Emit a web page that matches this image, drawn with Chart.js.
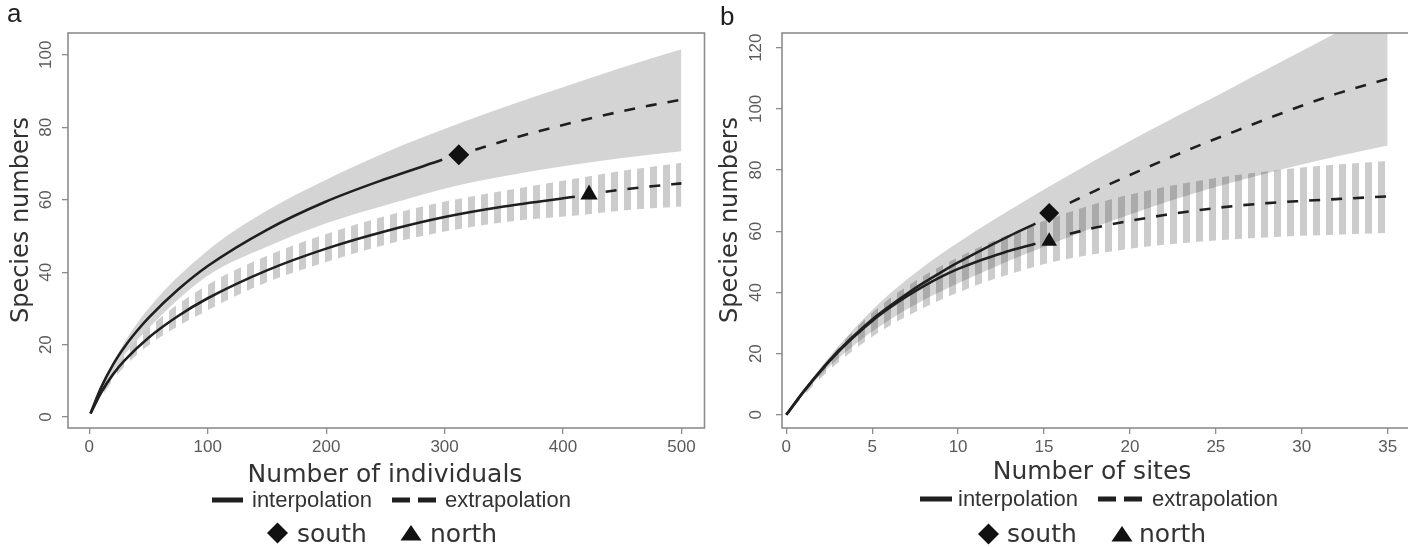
<!DOCTYPE html>
<html>
<head>
<meta charset="utf-8">
<title>Species rarefaction curves</title>
<script src="https://cdn.jsdelivr.net/npm/chart.js@4.4.0/dist/chart.umd.min.js"></script>
<style>
  html, body { margin: 0; padding: 0; background: #fff; overflow: hidden; }
  #wrap { position: relative; width: 1408px; height: 547px; overflow: hidden; }
  .panel { position: absolute; top: 0; height: 547px; }
  #panel-a { left: 0; width: 715px; }
  #panel-b { left: 715px; width: 705px; }
</style>
</head>
<body>
<div id="wrap">
  <div class="panel" id="panel-a"><canvas id="chart-a" width="715" height="547"></canvas></div>
  <div class="panel" id="panel-b"><canvas id="chart-b" width="705" height="547"></canvas></div>
</div>
<script>
  // ---- panel a : number of individuals ----
  const aXTicks = [0, 100, 200, 300, 400, 500];
  const aYTicks = [0, 20, 40, 60, 80, 100];

  const aSouthInterpX = [1, 10, 20, 30, 40, 50, 75, 100, 150, 200, 250, 298];
  const aSouthInterpY = [1, 8.2, 14.5, 19.5, 23.7, 27.4, 35.2, 41.7, 51.7, 59.5, 65.7, 71];
  const aSouthExtrapX = [326, 350, 375, 400, 425, 450, 475, 500];
  const aSouthExtrapY = [73.8, 76.2, 78.5, 80.6, 82.6, 84.4, 86.1, 87.6];
  const aSouthObs = [312, 72.4];

  const aNorthInterpX = [1, 10, 20, 30, 50, 75, 100, 150, 200, 250, 300, 350, 410];
  const aNorthInterpY = [1, 6.8, 11.8, 15.7, 21.9, 27.9, 32.8, 40.5, 46.5, 51.3, 55.2, 58.1, 60.8];
  const aNorthExtrapX = [436, 450, 475, 500];
  const aNorthExtrapY = [62.2, 62.8, 63.7, 64.5];
  const aNorthObs = [422, 61.4];

  const aSouthBandX = [1, 25, 50, 100, 150, 200, 250, 312, 350, 400, 450, 500];
  const aSouthBandHi = [1, 18, 30, 46, 57, 65.5, 73, 81, 85.5, 91, 96.5, 101.5];
  const aSouthBandLo = [1, 15, 24.5, 39, 47, 53.5, 58.5, 64, 66.5, 69.2, 71.5, 73.4];

  const aNorthBandX = [1, 25, 50, 100, 150, 200, 250, 300, 350, 422, 450, 500];
  const aNorthBandHi = [1, 15, 24.5, 36.5, 44.5, 50.5, 55.5, 59.5, 62.5, 66.5, 68, 70.2];
  const aNorthBandLo = [1, 12.3, 19.8, 29.5, 37.2, 42.8, 47.6, 51.2, 53.8, 56, 57, 58.1];

  // ---- panel b : number of sites ----
  const bXTicks = [0, 5, 10, 15, 20, 25, 30, 35];
  const bYTicks = [0, 20, 40, 60, 80, 100, 120];

  const bInterpX = [0, 1, 2, 3, 4, 5, 6, 7, 8, 9, 10, 11, 12, 13, 14.5];
  const bSouthInterpY = [0, 7.6, 14.5, 20.7, 26.2, 31.2, 35.5, 39.5, 43.2, 46.6, 49.8, 52.8, 55.7, 58.5, 62.5];
  const bNorthInterpY = [0, 7.5, 14.3, 20.4, 25.8, 30.7, 34.9, 38.7, 42.1, 45.1, 47.7, 49.9, 51.8, 53.6, 55.9];
  const bExtrapX = [16.5, 18, 20, 22, 24, 26, 28, 30, 32, 35];
  const bSouthExtrapY = [69.3, 73.3, 78.4, 83.3, 88, 92.4, 96.8, 101, 104.9, 109.8];
  const bNorthExtrapY = [59.2, 61.2, 63.4, 65.3, 66.9, 68.2, 69.2, 69.9, 70.5, 71.4];
  const bSouthObs = [15.3, 66];
  const bNorthObs = [15.3, 56.7];

  const bBandX = [0, 2, 4, 6, 8, 10, 12, 14, 15.3, 18, 20, 22, 24, 26, 28, 30, 32, 35];
  const bSouthBandHi = [0, 15.5, 28.5, 39.5, 48.5, 56.3, 63.5, 70.3, 74.6, 83.3, 89.5, 95.5, 101.3, 107.1, 113, 118.9, 124.8, 133.5];
  const bSouthBandLo = [0, 13, 23, 31, 37.5, 43, 48, 52.7, 55.6, 61.5, 65.5, 69.3, 72.8, 76, 79, 81.8, 84.4, 88];
  const bNorthBandHi = [0, 15, 28, 38, 45.5, 51.5, 56.7, 61.3, 64, 69, 72, 74.5, 76.5, 78.2, 79.6, 80.8, 81.8, 83];
  const bNorthBandLo = [0, 12, 21.5, 29, 35, 40, 44.2, 47.7, 49.7, 52.6, 54.3, 55.6, 56.6, 57.4, 58, 58.5, 58.9, 59.4];

  const INK = '#1f1f1f';
  const TEXT_INK = '#333333';
  const TICK_INK = '#5a5a5a';
  const AXIS_GREY = '#8c8c8c';
  const SOLID_BAND = 'rgba(0, 0, 0, 0.17)';
  const SANS = '"Liberation Sans", Arial, sans-serif';
  const DEJAVU = '"DejaVu Sans", Verdana, sans-serif';

  const pts = (xs, ys) => xs.map((x, i) => ({ x: x, y: ys[i] }));

  const stripes = (period, width, color) => {
    const c = document.createElement('canvas');
    c.width = period;
    c.height = 4;
    const g = c.getContext('2d');
    g.fillStyle = color;
    g.fillRect(0, 0, width, 4);
    return g.createPattern(c, 'repeat');
  };
  const HATCH = stripes(13, 7, 'rgba(0, 0, 0, 0.2)');

  const drawDiamond = (ctx, cx, cy, rx, ry) => {
    ctx.beginPath();
    ctx.moveTo(cx, cy - ry);
    ctx.lineTo(cx + rx, cy);
    ctx.lineTo(cx, cy + ry);
    ctx.lineTo(cx - rx, cy);
    ctx.closePath();
    ctx.fill();
  };

  const drawTriangle = (ctx, cx, top, bottom, hw) => {
    ctx.beginPath();
    ctx.moveTo(cx, top);
    ctx.lineTo(cx + hw, bottom);
    ctx.lineTo(cx - hw, bottom);
    ctx.closePath();
    ctx.fill();
  };

  // box, panel letter, axis titles and the two-row legend
  const makeDeco = (p) => ({
    id: 'deco',
    afterDraw(chart) {
      const { ctx, chartArea: a } = chart;
      const ox = p.offsetX;
      ctx.save();
      ctx.strokeStyle = AXIS_GREY;
      ctx.lineWidth = 1.6;
      ctx.strokeRect(a.left, a.top, a.right - a.left, a.bottom - a.top);

      ctx.fillStyle = INK;
      ctx.textBaseline = 'alphabetic';
      ctx.textAlign = 'left';
      ctx.font = '26px ' + SANS;
      ctx.fillText(p.letter, p.letterX - ox, p.letterY);

      ctx.fillStyle = TEXT_INK;
      ctx.font = '24px ' + DEJAVU;
      ctx.save();
      ctx.translate(p.yTitleX - ox, 220);
      ctx.rotate(-Math.PI / 2);
      ctx.textAlign = 'center';
      ctx.fillText('Species numbers', 0, 0);
      ctx.restore();

      ctx.font = '25px ' + DEJAVU;
      ctx.textAlign = 'center';
      ctx.fillText(p.xTitle, p.xTitleX - ox, p.xTitleY);

      // row 1: line types
      const L = p.legend;
      ctx.strokeStyle = INK;
      ctx.lineWidth = 5;
      ctx.beginPath();
      ctx.moveTo(L.solid[0] - ox, L.lineY);
      ctx.lineTo(L.solid[1] - ox, L.lineY);
      ctx.stroke();
      ctx.setLineDash([18, 8]);
      ctx.beginPath();
      ctx.moveTo(L.dash[0] - ox, L.lineY);
      ctx.lineTo(L.dash[1] - ox, L.lineY);
      ctx.stroke();
      ctx.setLineDash([]);

      ctx.textAlign = 'left';
      ctx.font = '22px ' + SANS;
      ctx.fillText('interpolation', L.interpX - ox, L.row1Base);
      ctx.fillText('extrapolation', L.extrapX - ox, L.row1Base);

      // row 2: markers
      ctx.fillStyle = '#111';
      drawDiamond(ctx, L.diamondX - ox, L.markY, 10.5, 10.5);
      drawTriangle(ctx, L.triX - ox, L.markY - 8, L.markY + 7.5, 10.5);
      ctx.fillStyle = TEXT_INK;
      ctx.font = '25px ' + DEJAVU;
      ctx.fillText('south', L.southX - ox, L.row2Base);
      ctx.fillText('north', L.northX - ox, L.row2Base);
      ctx.restore();
    }
  });

  const curve = (data, dashed) => ({
    data: data,
    borderColor: INK,
    borderWidth: 2.6,
    borderDash: dashed ? [11, 11] : [],
    borderCapStyle: 'butt',
    pointRadius: 0,
    fill: false,
    cubicInterpolationMode: 'monotone'
  });

  const bandEdge = (data, fill, color) => ({
    data: data,
    borderColor: 'rgba(0,0,0,0)',
    borderWidth: 0,
    pointRadius: 0,
    fill: fill,
    backgroundColor: color,
    cubicInterpolationMode: 'monotone'
  });

  const marker = (xy, style, r) => ({
    data: [{ x: xy[0], y: xy[1] }],
    showLine: false,
    pointStyle: style,
    pointRadius: r,
    pointBackgroundColor: '#111',
    pointBorderWidth: 0,
    borderWidth: 0
  });

  const buildChart = (id, p) => new Chart(document.getElementById(id), {
    type: 'line',
    data: {
      datasets: [
        marker(p.southObs, 'rectRot', p.diamondR),
        marker(p.northObs, 'triangle', p.triR),
        curve(p.southInterp, false),
        curve(p.southExtrap, true),
        curve(p.northInterp, false),
        curve(p.northExtrap, true),
        bandEdge(p.southHi, '+1', SOLID_BAND),
        bandEdge(p.southLo, false, 'transparent'),
        bandEdge(p.northHi, '+1', HATCH),
        bandEdge(p.northLo, false, 'transparent')
      ]
    },
    options: {
      responsive: false,
      animation: false,
      events: [],
      layout: { padding: { left: 0, right: p.padRight, top: 33, bottom: 0 } },
      plugins: {
        legend: { display: false },
        tooltip: { enabled: false }
      },
      scales: {
        x: {
          type: 'linear',
          min: p.xMin,
          max: p.xMax,
          afterBuildTicks: (s) => { s.ticks = p.xTicks.map(v => ({ value: v })); },
          afterFit: (s) => { s.height = 119; },
          border: { display: false },
          grid: { drawOnChartArea: false, drawTicks: true, tickLength: 6, color: AXIS_GREY, lineWidth: 1.3 },
          ticks: { color: TICK_INK, font: { family: SANS, size: 17 }, padding: 3, maxRotation: 0, autoSkip: false }
        },
        y: {
          type: 'linear',
          min: p.yMin,
          max: p.yMax,
          afterBuildTicks: (s) => { s.ticks = p.yTicks.map(v => ({ value: v })); },
          afterFit: (s) => { s.width = p.yAxisWidth; },
          border: { display: false },
          grid: { drawOnChartArea: false, drawTicks: true, tickLength: 6, color: AXIS_GREY, lineWidth: 1.3 },
          ticks: {
            color: TICK_INK, font: { family: SANS, size: 17 }, padding: p.yTickPad,
            minRotation: 90, maxRotation: 90, crossAlign: 'center', autoSkip: false
          }
        }
      }
    },
    plugins: [makeDeco(p)]
  });

  buildChart('chart-a', {
    offsetX: 0, padRight: 10, yAxisWidth: 68, yTickPad: 2,
    xMin: -18, xMax: 519.5, yMin: -3, yMax: 106,
    xTicks: aXTicks, yTicks: aYTicks,
    southInterp: pts(aSouthInterpX, aSouthInterpY),
    southExtrap: pts(aSouthExtrapX, aSouthExtrapY),
    northInterp: pts(aNorthInterpX, aNorthInterpY),
    northExtrap: pts(aNorthExtrapX, aNorthExtrapY),
    southObs: aSouthObs, northObs: aNorthObs, diamondR: 10.5, triR: 10,
    southHi: pts(aSouthBandX, aSouthBandHi), southLo: pts(aSouthBandX, aSouthBandLo),
    northHi: pts(aNorthBandX, aNorthBandHi), northLo: pts(aNorthBandX, aNorthBandLo),
    letter: 'a', letterX: 7, letterY: 22, yTitleX: 28,
    xTitle: 'Number of individuals', xTitleX: 385, xTitleY: 482,
    legend: {
      solid: [212, 243], dash: [392, 437], lineY: 500, row1Base: 507,
      interpX: 252, extrapX: 445,
      diamondX: 277.5, triX: 411, markY: 533, row2Base: 542,
      southX: 297, northX: 430
    }
  });

  buildChart('chart-b', {
    offsetX: 715, padRight: 4.2, yAxisWidth: 67, yTickPad: 6,
    xMin: -0.25, xMax: 36.3, yMin: -4.3, yMax: 124.8,
    xTicks: bXTicks, yTicks: bYTicks,
    southInterp: pts(bInterpX, bSouthInterpY),
    southExtrap: pts(bExtrapX, bSouthExtrapY),
    northInterp: pts(bInterpX, bNorthInterpY),
    northExtrap: pts(bExtrapX, bNorthExtrapY),
    southObs: bSouthObs, northObs: bNorthObs, diamondR: 10, triR: 9,
    southHi: pts(bBandX, bSouthBandHi), southLo: pts(bBandX, bSouthBandLo),
    northHi: pts(bBandX, bNorthBandHi), northLo: pts(bBandX, bNorthBandLo),
    letter: 'b', letterX: 720, letterY: 25, yTitleX: 737,
    xTitle: 'Number of sites', xTitleX: 1092, xTitleY: 479,
    legend: {
      solid: [920, 952], dash: [1098, 1143], lineY: 499, row1Base: 506,
      interpX: 958, extrapX: 1152,
      diamondX: 988.5, triX: 1122, markY: 534, row2Base: 542,
      southX: 1007, northX: 1139
    }
  });
</script>
</body>
</html>
